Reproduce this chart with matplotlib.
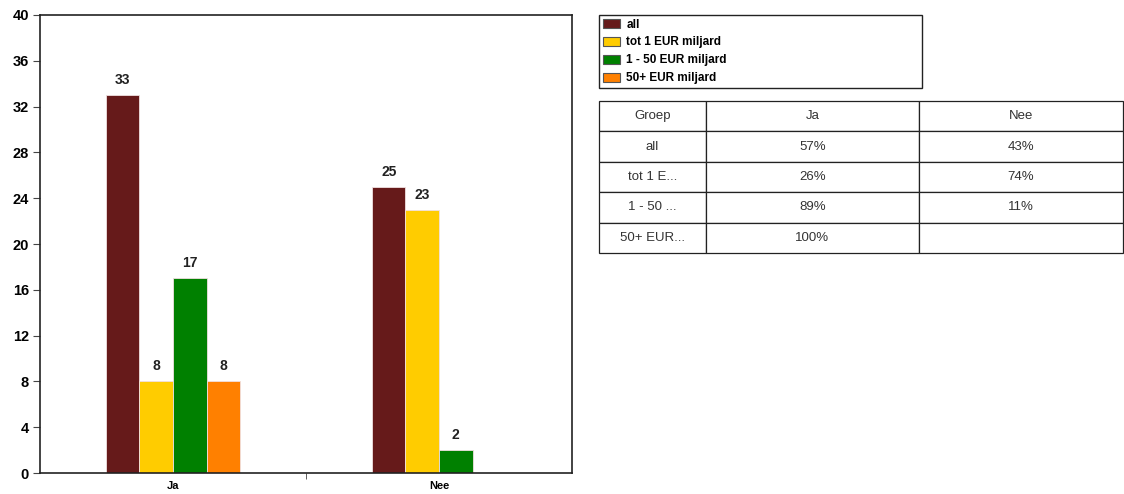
import matplotlib

matplotlib.use("Agg")
import matplotlib.pyplot as plt  # noqa: E402
import numpy as np  # noqa: E402
from matplotlib.patches import Patch  # noqa: E402

plt.rcParams["font.family"] = ["Liberation Sans", "DejaVu Sans"]

# Counts per answer, one list per group.
answers = ["Ja", "Nee"]
groups = ["all", "tot 1 EUR miljard", "1 - 50 EUR miljard", "50+ EUR miljard"]
counts_all = [33, 25]
counts_tot1 = [8, 23]
counts_1_50 = [17, 2]
counts_50plus = [8, 0]

# Share table shown beside the chart.
table_header = ["Groep", "Ja", "Nee"]
table_groups = ["all", "tot 1 E...", "1 - 50 ...", "50+ EUR..."]
share_ja = ["57%", "26%", "89%", "100%"]
share_nee = ["43%", "74%", "11%", ""]

COLORS = ["#661a1a", "#ffcc00", "#008000", "#ff8000"]

W, H = 1124, 494
fig = plt.figure(figsize=(W / 100, H / 100), dpi=100)
fig.patch.set_facecolor("white")


def fbox(x0, y0, x1, y1):
    # pixel box (top-left origin) -> figure fraction rect
    return [x0 / W, 1 - y1 / H, (x1 - x0) / W, (y1 - y0) / H]


ax = fig.add_axes(fbox(40, 15, 572, 473))
x = np.arange(len(answers))
width = 0.126
series = [counts_all, counts_tot1, counts_1_50, counts_50plus]
for i, (vals, color) in enumerate(zip(series, COLORS)):
    pos = x + (i - 1.5) * width
    for p, v in zip(pos, vals):
        if v == 0:
            continue
        ax.bar(p, v, width=width, color=color, edgecolor="#f0e0e0", linewidth=0.6)
        ax.text(p, v + 0.7, str(v), ha="center", va="bottom",
                fontsize=10, fontweight="bold", color="#222222")

ax.set_xlim(-0.5, 1.5)
ax.set_ylim(0, 40)
ax.set_yticks(range(0, 41, 4))
ax.set_xticks([0.5], minor=True)
ax.set_xticks(x)
ax.set_xticklabels(answers)
ax.tick_params(axis="x", which="major", length=0, pad=6)
ax.tick_params(axis="x", which="minor", length=4, direction="out", color="#444444")
ax.tick_params(axis="y", length=5, color="#444444", pad=3)
for lab in ax.get_xticklabels():
    lab.set_fontsize(8)
    lab.set_fontweight("bold")
for lab in ax.get_yticklabels():
    lab.set_fontsize(10.5)
    lab.set_fontweight("bold")
for spine in ax.spines.values():
    spine.set_color("#222222")
    spine.set_linewidth(1.2)

# Legend box, stretched to a fixed width
handles = [Patch(facecolor=c, edgecolor="#555555", linewidth=0.8) for c in COLORS]
lx0, ly0, lx1 = 599, 15, 922
leg = fig.legend(handles, groups, loc="upper left", mode="expand",
                 bbox_to_anchor=(lx0 / W, 1 - ly0 / H, (lx1 - lx0) / W, 0),
                 borderaxespad=0,
                 prop={"size": 8.5, "weight": "bold"},
                 handlelength=1.5, handleheight=0.8, handletextpad=0.5,
                 labelspacing=0.5, borderpad=0.3,
                 frameon=True, fancybox=False, framealpha=1)
leg.get_frame().set_edgecolor("#222222")
leg.get_frame().set_linewidth(1.0)

# Table
tax = fig.add_axes(fbox(599, 101, 1123, 253))
tax.axis("off")
cells = [table_header] + [[g, a, b] for g, a, b in zip(table_groups, share_ja, share_nee)]
col_px = [107, 213, 204]
tbl = tax.table(cellText=cells, colWidths=[c / sum(col_px) for c in col_px],
                cellLoc="center", bbox=[0, 0, 1, 1])
tbl.auto_set_font_size(False)
for (r, c), cell in tbl.get_celld().items():
    cell.set_edgecolor("#222222")
    cell.set_linewidth(0.9)
    cell.get_text().set_fontsize(9.5)
    cell.get_text().set_color("#333333")

fig.savefig("out.png", dpi=100, facecolor="white")
